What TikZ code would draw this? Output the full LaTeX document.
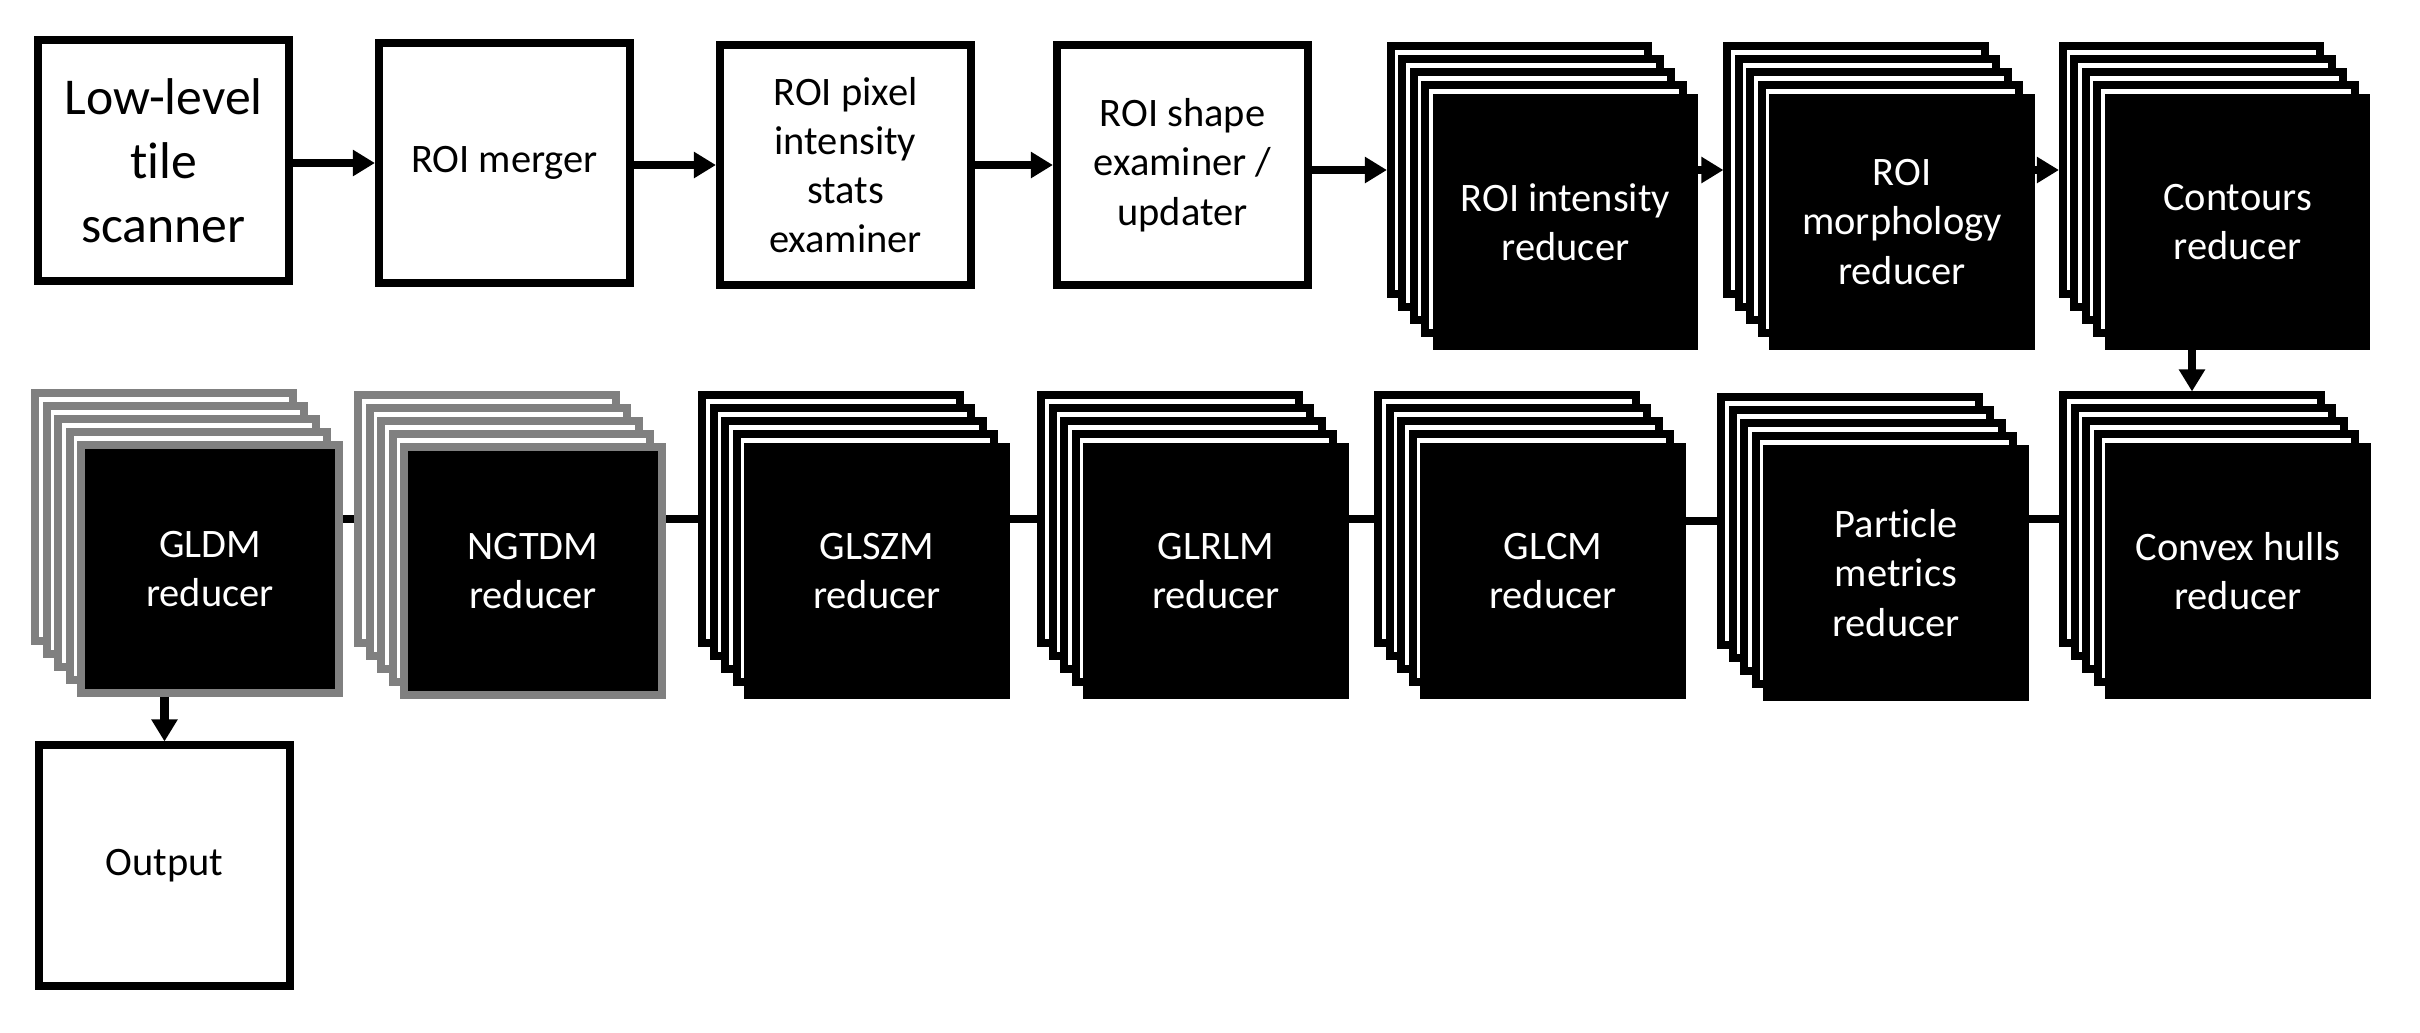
\documentclass[tikz,border=0pt]{standalone}
\usepackage{fontspec}
\setmainfont[Ligatures=NoCommon]{Carlito}
\usetikzlibrary{arrows.meta}
\usetikzlibrary{positioning}

\newcommand{\boxfont}{\fontsize{11.5}{14}\selectfont}
\newcommand{\bigboxfont}{\fontsize{14.7}{18.2}\selectfont}

% stack of five boxes: name, x, y, border colour, text
\newcommand{\reducerstack}[5]{%
  \foreach \k in {4,3,2,1} {
    \node [stackbox, draw=#4] (#1-\k) at ({#2-11.5*\k},{#3-13*\k}) {};
  }
  \node [stackbox, draw=#4, fill=black, text=white] (#1) at (#2,#3) {#5};
}

\begin{document}
\begin{tikzpicture}[x=0.01cm, y=-0.01cm,
  box/.style={draw, line width=0.08cm, minimum width=2.51cm, minimum height=2.40cm,
              inner sep=0pt, align=center, font=\boxfont},
  stackbox/.style={fill=white, line width=0.08cm, minimum width=2.57cm, minimum height=2.47cm,
                   inner sep=0pt, align=center, font=\boxfont},
  flow/.style={line width=0.08cm, -{Triangle[length=0.22cm, width=0.25cm]}},
  link/.style={line width=0.085cm}]

\useasboundingbox (0,0) rectangle (2420,1032);

% --- first row ---
\node [box, font=\bigboxfont] (scanner) at (163.5,160.5) {Low-level\\tile\\scanner};
\node [box] (merger) at (504.5,163) {ROI merger};
\node [box] (stats) at (845.5,165) {ROI pixel\\intensity\\stats\\examiner};
\node [box] (shapeex) at (1182.5,165) {ROI shape\\examiner /\\updater};

\reducerstack{intensity}{1565.5}{222}{black}{ROI intensity\\reducer}
\reducerstack{morphology}{1902}{222}{black}{ROI\\morphology\\reducer}
\reducerstack{contours}{2237.5}{222}{black}{Contours\\reducer}

% --- second row ---
\reducerstack{convex}{2238}{571}{black}{Convex hulls\\reducer}
\reducerstack{particle}{1896}{573}{black}{Particle\\metrics\\reducer}
\reducerstack{glcm}{1553}{571}{black}{GLCM\\reducer}
\reducerstack{glrlm}{1216}{571}{black}{GLRLM\\reducer}
\reducerstack{glszm}{877}{571}{black}{GLSZM\\reducer}
\reducerstack{ngtdm}{533}{571}{gray}{NGTDM\\reducer}
\reducerstack{gldm}{210}{569}{gray}{GLDM\\reducer}

\node [box] (output) at (164.5,865.5) {Output};

% arrows
\draw [flow] (scanner.east |- merger.west) -- (merger.west);
\draw [flow] (merger.east |- stats.west) -- (stats.west);
\draw [flow] (stats.east |- shapeex.west) -- (shapeex.west);
\draw [flow] (shapeex.east |- intensity-4.west) -- (intensity-4.west);
\draw [flow] (intensity.east |- morphology-4.west) -- (morphology-4.west);
\draw [flow] (morphology.east |- contours-4.west) -- (contours-4.west);
\draw [flow] (contours.south -| convex-4.north) -- (convex-4.north);

% links between reducers
\draw [link] (convex-4.west) -- (convex-4.west -| particle.east);
\draw [link] (particle-4.west) -- (particle-4.west -| glcm.east);
\draw [link] (glcm-4.west) -- (glcm-4.west -| glrlm.east);
\draw [link] (glrlm-4.west) -- (glrlm-4.west -| glszm.east);
\draw [link] (glszm-4.west) -- (glszm-4.west -| ngtdm.east);
\draw [link] (ngtdm-4.west) -- (ngtdm-4.west -| gldm.east);

\draw [flow] (gldm.south -| output.north) -- (output.north);

\end{tikzpicture}
\end{document}
